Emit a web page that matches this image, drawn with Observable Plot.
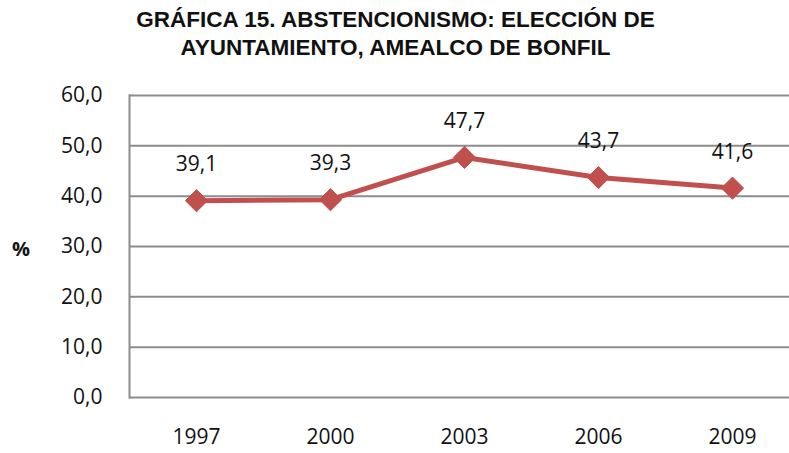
<!DOCTYPE html>
<html>
<head>
<meta charset="utf-8">
<script src="https://cdn.jsdelivr.net/npm/d3@7"></script>
<script src="https://cdn.jsdelivr.net/npm/@observablehq/plot@0.6"></script>
<style>
  body { margin: 0; background: #fff; overflow: hidden; }
  #title { font-family: "Liberation Sans", Arial, sans-serif; font-weight: bold; font-size: 22.5px; line-height: 28px; text-align: center; color: #111; height: 80px; box-sizing: border-box; padding-top: 6px; padding-left: 2px; width: 789px; }
  #chart { position: relative; }
  #pct { position: absolute; left: 12px; top: 155px; font-family: "Open Sans", sans-serif; font-size: 20px; font-weight: bold; color: #111; }
</style>
</head>
<body>
<div id="title">GRÁFICA 15. ABSTENCIONISMO: ELECCIÓN DE<br>AYUNTAMIENTO, AMEALCO DE BONFIL</div>
<div id="chart"><div id="pct">%</div></div>
<script>
const years = ["1997", "2000", "2003", "2006", "2009"];
const values = [39.1, 39.3, 47.7, 43.7, 41.6];
const yTicks = [0, 10, 20, 30, 40, 50, 60];

const data = years.map((y, i) => ({year: y, value: values[i]}));
const fmt = v => v.toFixed(1).replace(".", ",");

const plot = Plot.plot({
  width: 789,
  height: 373,
  marginLeft: 129,
  marginRight: -10,
  marginTop: 15,
  marginBottom: 56,
  style: {fontFamily: "'Open Sans', sans-serif", fontSize: "21px", color: "#111", overflow: "visible"},
  x: {type: "band", domain: years, padding: 0},
  y: {domain: [0, 60]},
  marks: [
    Plot.ruleY(yTicks, {stroke: "#8c8c8c", strokeWidth: 2}),
    Plot.frame({anchor: "left", stroke: "#8c8c8c", strokeWidth: 2}),
    Plot.axisX({tickSize: 0, tickPadding: 32, label: null, fontSize: 21, fill: "#111"}),
    Plot.axisY({ticks: yTicks, tickFormat: fmt, tickSize: 0, tickPadding: 27, label: null, fontSize: 21, fill: "#111"}),
    Plot.line(data, {x: "year", y: "value", stroke: "#c0504d", strokeWidth: 5}),
    Plot.dot(data, {x: "year", y: "value", symbol: "diamond2", r: 10, fill: "#c0504d", stroke: "#c0504d", strokeWidth: 1}),
    Plot.text(data, {x: "year", y: "value", text: d => fmt(d.value), dy: -36, fontSize: 21, fill: "#111"})
  ]
});
document.getElementById("chart").appendChild(plot);
</script>
</body>
</html>
